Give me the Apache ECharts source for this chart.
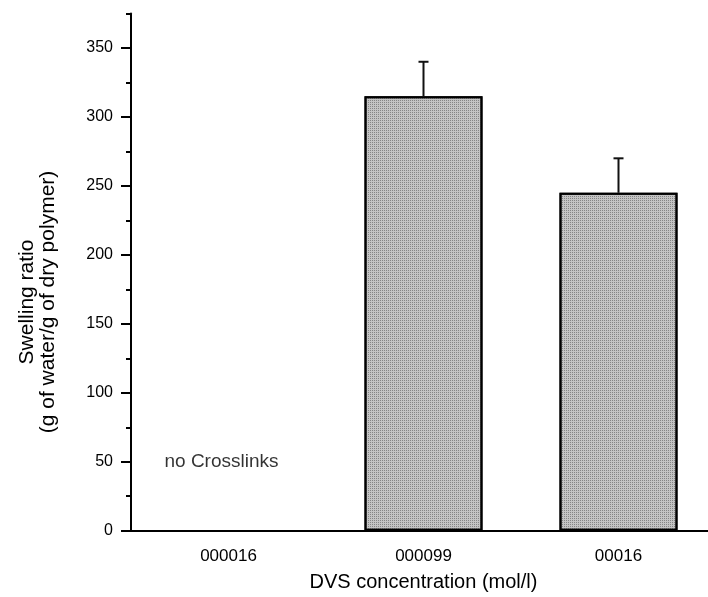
<!DOCTYPE html>
<html>
<head>
<meta charset="utf-8">
<script src="https://cdn.jsdelivr.net/npm/echarts@6/dist/echarts.min.js"></script>
<style>
  html, body { margin: 0; padding: 0; background: #fff; }
  #chart { width: 708px; height: 597px; }
</style>
</head>
<body>
<div id="chart"></div>
<script>
// data
const categories = ["000016", "000099", "00016"];
const swelling = [null, 315, 245];
const swellingErr = [null, 25, 25];
const yTicks = [0, 50, 100, 150, 200, 250, 300, 350];
const note = "no Crosslinks";
const noteAt = [0, 50];

const FONT = "Liberation Sans";
const chart = echarts.init(document.getElementById("chart"));

const errData = swelling
  .map((v, i) => (v == null ? null : [i, v, swellingErr[i]]))
  .filter((d) => d);

const option = {
  animation: false,
  backgroundColor: "#fff",
  textStyle: { fontFamily: FONT, color: "#000" },
  // axis runs past the right edge of the picture
  grid: { left: 131, width: 585, top: 13.5, bottom: 66.3, outerBoundsMode: "none", containLabel: false },
  xAxis: [
    {
      type: "category",
      data: categories,
      axisLine: { lineStyle: { color: "#000", width: 2 } },
      axisTick: { alignWithLabel: true, length: 10, lineStyle: { color: "#000", width: 2 } },
      axisLabel: { fontSize: 17, color: "#000", margin: 17, fontFamily: FONT },
      name: "DVS concentration (mol/l)",
      nameLocation: "middle",
      nameGap: 42,
      nameTextStyle: { fontSize: 20, color: "#000", fontFamily: FONT },
    },
    {
      type: "category",
      data: categories,
      position: "bottom",
      axisLine: { show: false },
      axisTick: { length: 5, lineStyle: { color: "#000", width: 2 } },
      axisLabel: { show: false },
    },
  ],
  yAxis: [
    {
      type: "value",
      min: 0,
      max: 375,
      interval: 50,
      axisLine: { show: true, lineStyle: { color: "#000", width: 2 } },
      axisTick: { show: true, length: 10, customValues: yTicks, lineStyle: { color: "#000", width: 2 } },
      axisLabel: { customValues: yTicks, fontSize: 16, color: "#000", margin: 18, fontFamily: FONT },
      splitLine: { show: false },
    },
    {
      type: "value",
      min: 0,
      max: 375,
      interval: 25,
      position: "left",
      axisLine: { show: false },
      axisTick: { show: true, length: 5, lineStyle: { color: "#000", width: 2 } },
      axisLabel: { show: false },
      splitLine: { show: false },
    },
  ],
  graphic: [
    {
      type: "text",
      x: 38,
      y: 302,
      rotation: Math.PI / 2,
      style: {
        text: "Swelling ratio\n(g of water/g of dry polymer)",
        font: "21px 'Liberation Sans'",
        fill: "#000",
        align: "center",
        verticalAlign: "middle",
        lineHeight: 21,
      },
    },
  ],
  series: [
    {
      type: "bar",
      data: swelling,
      barWidth: 118,
      itemStyle: {
        color: "#c4c4c4",
        borderColor: "#000",
        borderWidth: 2,
        decal: {
          symbol: "rect",
          symbolSize: 1,
          dashArrayX: [1, 1],
          dashArrayY: [1, 1],
          color: "rgba(70,70,70,0.5)",
        },
      },
    },
    {
      type: "custom",
      data: errData,
      renderItem: (params, api) => {
        const i = api.value(0);
        const v = api.value(1);
        const e = api.value(2);
        const base = api.coord([i, v]);
        const top = api.coord([i, v + e]);
        const style = { stroke: "#111", lineWidth: 2 };
        return {
          type: "group",
          children: [
            { type: "line", shape: { x1: base[0], y1: base[1], x2: top[0], y2: top[1] }, style },
            { type: "line", shape: { x1: top[0] - 5, y1: top[1], x2: top[0] + 5, y2: top[1] }, style },
          ],
        };
      },
      z: 5,
    },
    {
      type: "scatter",
      data: [noteAt],
      symbolSize: 0,
      label: {
        show: true,
        position: "inside",
        offset: [-7, 0],
        formatter: note,
        fontSize: 19,
        color: "#000",
        fontFamily: FONT,
      },
    },
  ],
};

chart.setOption(option);
</script>
</body>
</html>
